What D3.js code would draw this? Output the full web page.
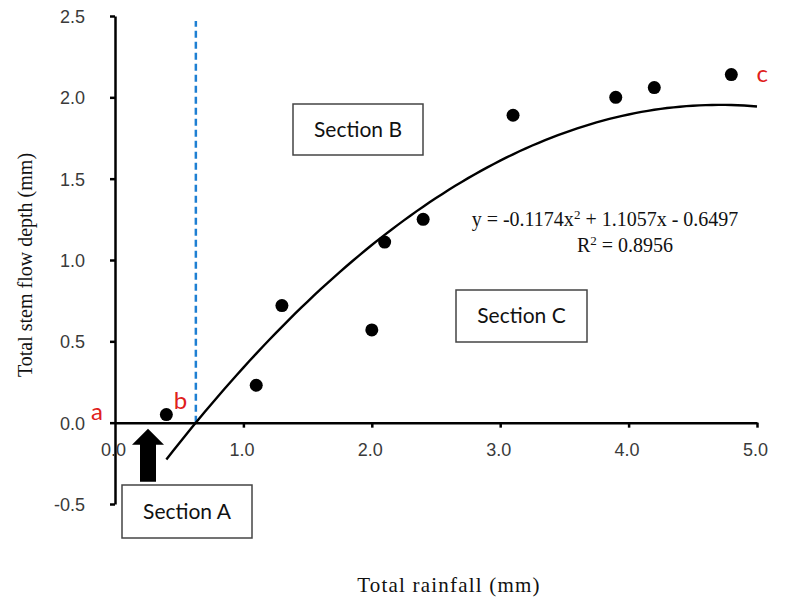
<!DOCTYPE html>
<html lang="en">
<head>
  <meta charset="UTF-8">
  <title>Stem flow vs rainfall</title>
  <script src="https://d3js.org/d3.v7.min.js"></script>
  <style>
    body { margin: 0; background: #fff; }
    svg { display: block; }
  </style>
</head>
<body>
<script>
  // data
  const rainfall = [0.4, 1.1, 1.3, 2.0, 2.1, 2.4, 3.1, 3.9, 4.2, 4.8];
  const stemflow = [0.05, 0.23, 0.72, 0.57, 1.11, 1.25, 1.89, 2.0, 2.06, 2.14];
  const xTicks = [0, 1, 2, 3, 4, 5];
  const yTicks = [-0.5, 0, 0.5, 1, 1.5, 2, 2.5];
  const fitCoef = [-0.1174, 1.1057, -0.6497];   // a x^2 + b x + c
  const fitRange = [0.4, 5.0];
  const pointLabels = [
    { text: "a", x: 0.0, y: 0.0 },
    { text: "b", x: 0.4, y: 0.05 },
    { text: "c", x: 4.8, y: 2.14 }
  ];

  const W = 791, H = 598;
  const svg = d3.select("body").append("svg")
    .attr("width", W)
    .attr("height", H);

  const x = d3.scaleLinear().domain([0, 5]).range([115, 757]);
  const y = d3.scaleLinear().domain([-0.5, 2.5]).range([504, 16]);
  const fmt = d => d3.format(".1f")(d).replace("\u2212", "-");

  const fit = v => fitCoef[0] * v * v + fitCoef[1] * v + fitCoef[2];
  const root = (-fitCoef[1] + Math.sqrt(fitCoef[1] * fitCoef[1] - 4 * fitCoef[0] * fitCoef[2])) / (2 * fitCoef[0]);

  // dashed blue line at the curve's zero crossing
  svg.append("line")
    .attr("x1", x(root)).attr("x2", x(root))
    .attr("y1", y(0)).attr("y2", y(2.47))
    .attr("stroke", "#1e7fd2")
    .attr("stroke-width", 2.5)
    .attr("stroke-dasharray", "7,4");

  // y axis
  const yAxis = svg.append("g")
    .attr("transform", "translate(" + x(0) + ",0)")
    .call(d3.axisLeft(y).tickValues(yTicks).tickFormat(fmt).tickSize(5).tickSizeOuter(0));
  yAxis.select(".domain").attr("stroke", "#000").attr("stroke-width", 2.5);
  yAxis.selectAll(".tick line").attr("stroke", "#000").attr("stroke-width", 2.5);
  yAxis.selectAll(".tick text")
    .attr("x", -30)
    .attr("dy", "0.36em")
    .style("font-family", "'Liberation Sans', Arial, sans-serif")
    .style("font-size", "18px")
    .attr("fill", "#3a3a3a");

  // x axis at y = 0
  const xAxis = svg.append("g")
    .attr("transform", "translate(0," + y(0) + ")")
    .call(d3.axisBottom(x).tickValues(xTicks).tickFormat(fmt).tickSize(5).tickSizeOuter(0));
  xAxis.select(".domain").attr("stroke", "#000").attr("stroke-width", 2.5);
  xAxis.selectAll(".tick line").attr("stroke", "#000").attr("stroke-width", 2.5)
    .attr("display", d => d === 0 ? "none" : null);
  xAxis.selectAll(".tick text")
    .attr("x", -2)
    .attr("y", 21)
    .style("font-family", "'Liberation Sans', Arial, sans-serif")
    .style("font-size", "18px")
    .attr("fill", "#3a3a3a");

  // fitted curve
  const curvePts = d3.range(fitRange[0], fitRange[1] + 0.001, 0.05).map(v => [v, fit(v)]);
  svg.append("path")
    .datum(curvePts)
    .attr("d", d3.line().x(d => x(d[0])).y(d => y(d[1])))
    .attr("fill", "none")
    .attr("stroke", "#000")
    .attr("stroke-width", 2.4);

  // points
  svg.selectAll("circle.pt")
    .data(rainfall.map((r, i) => [r, stemflow[i]]))
    .join("circle")
    .attr("class", "pt")
    .attr("cx", d => x(d[0]))
    .attr("cy", d => y(d[1]))
    .attr("r", 6.5)
    .attr("fill", "#000");

  // red letters
  const offsets = { a: [-18, -3], b: [14, -6], c: [31, 7] };
  svg.selectAll("text.lbl")
    .data(pointLabels)
    .join("text")
    .attr("class", "lbl")
    .attr("x", d => x(d.x) + offsets[d.text][0])
    .attr("y", d => y(d.y) + offsets[d.text][1])
    .attr("text-anchor", "middle")
    .style("font-family", "Lato, 'Open Sans', sans-serif")
    .style("font-size", "24px")
    .attr("fill", "#e0201b")
    .text(d => d.text);

  // arrow pointing up toward section A
  const ax = 148, aTop = y(0) + 6;
  svg.append("path")
    .attr("d", "M" + ax + "," + aTop +
      " L" + (ax + 16) + "," + (aTop + 16) +
      " L" + (ax + 8) + "," + (aTop + 16) +
      " L" + (ax + 8) + "," + (aTop + 53) +
      " L" + (ax - 8) + "," + (aTop + 53) +
      " L" + (ax - 8) + "," + (aTop + 16) +
      " L" + (ax - 16) + "," + (aTop + 16) + " Z")
    .attr("fill", "#000");

  // section boxes
  const boxes = [
    { label: "Section A", x0: 122, y0: 485, w: 130, h: 53 },
    { label: "Section B", x0: 293, y0: 104, w: 130, h: 51 },
    { label: "Section C", x0: 456, y0: 290, w: 131, h: 52 }
  ];
  boxes.forEach(b => {
    svg.append("rect")
      .attr("x", b.x0).attr("y", b.y0)
      .attr("width", b.w).attr("height", b.h)
      .attr("fill", "#fff")
      .attr("stroke", "#444")
      .attr("stroke-width", 1.5);
    svg.append("text")
      .attr("x", b.x0 + b.w / 2)
      .attr("y", b.y0 + b.h / 2 + 7)
      .attr("text-anchor", "middle")
      .style("font-family", "Lato, 'Open Sans', sans-serif")
      .style("font-size", "21px")
      .attr("fill", "#111")
      .text(b.label);
  });

  // equation
  const eq = svg.append("text")
    .attr("x", 605).attr("y", 226)
    .attr("text-anchor", "middle")
    .style("font-family", "'Liberation Serif', 'Times New Roman', serif")
    .style("font-size", "20px")
    .attr("fill", "#111");
  eq.append("tspan").text("y = -0.1174x");
  eq.append("tspan").attr("baseline-shift", "super").style("font-size", "13px").text("2");
  eq.append("tspan").text(" + 1.1057x - 0.6497");

  const r2 = svg.append("text")
    .attr("x", 625).attr("y", 252)
    .attr("text-anchor", "middle")
    .style("font-family", "'Liberation Serif', 'Times New Roman', serif")
    .style("font-size", "20px")
    .attr("fill", "#111");
  r2.append("tspan").text("R");
  r2.append("tspan").attr("baseline-shift", "super").style("font-size", "13px").text("2");
  r2.append("tspan").text(" = 0.8956");

  // axis titles
  svg.append("text")
    .attr("x", 449).attr("y", 592)
    .attr("text-anchor", "middle")
    .style("font-family", "'Liberation Serif', 'Times New Roman', serif")
    .style("font-size", "21px")
    .style("letter-spacing", "1.2px")
    .attr("fill", "#111")
    .text("Total rainfall (mm)");

  svg.append("text")
    .attr("transform", "translate(32,265) rotate(-90)")
    .attr("text-anchor", "middle")
    .style("font-family", "'Liberation Serif', 'Times New Roman', serif")
    .style("font-size", "20px")
    .attr("fill", "#111")
    .text("Total stem flow depth (mm)");
</script>
</body>
</html>
